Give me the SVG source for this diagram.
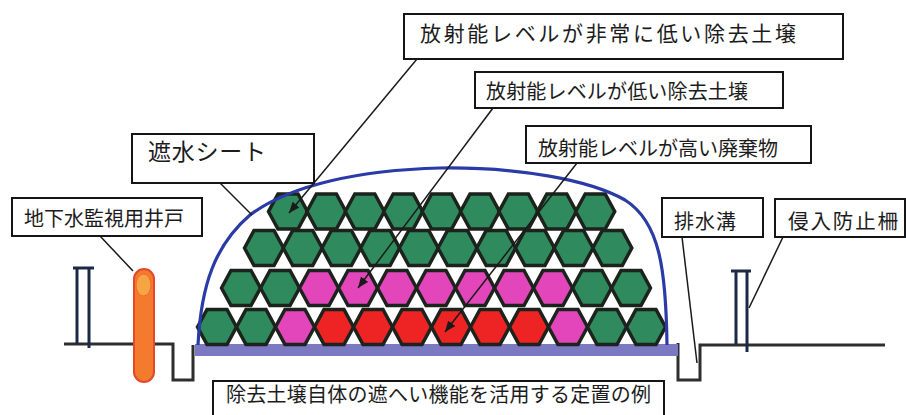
<svg xmlns="http://www.w3.org/2000/svg" xmlns:xlink="http://www.w3.org/1999/xlink" width="906" height="415" viewBox="0 0 906 415">
  <style>
    .box { fill: #ffffff; stroke: #151515; stroke-width: 2; }
    .lbl { font-family: "Noto Sans CJK JP", "Noto Sans", sans-serif; fill: #1c1c1c; }
    .lead { stroke: #1a1a1a; stroke-width: 1.5; fill: none; }
    .ground { stroke: #2e2e2e; stroke-width: 3; fill: none; stroke-linejoin: miter; }
    .post { stroke: #1b2846; stroke-width: 3; fill: none; }
    .hex { stroke: #1c221c; stroke-width: 3.5; stroke-linejoin: miter; }
    .g { fill: #2f8a5e; }
    .m { fill: #e346bb; }
    .r { fill: #ee2323; }
  </style>
  <defs>
    <polygon id="hx" class="hex" points="-19.5,0 -10,-17.5 10,-17.5 19.5,0 10,17.5 -10,17.5"/>
    <marker id="ah" markerUnits="userSpaceOnUse" markerWidth="12" markerHeight="10" refX="11" refY="4.5" orient="auto">
      <path d="M0,0 L11,4.5 L0,9 z" fill="#1a1a1a"/>
    </marker>
  </defs>

  <rect width="906" height="415" fill="#ffffff"/>

  <!-- ground with drainage trenches -->
  <g id="ground">
    <path class="ground" d="M64 344 H173 V380 H193 V345"/>
    <path class="ground" d="M678 343 V380 H700 V345 H885"/>
  </g>

  <!-- fences -->
  <g id="fence-left">
    <line class="post" x1="73" y1="268" x2="94" y2="268" stroke-width="4"/>
    <line class="post" x1="77" y1="268" x2="77" y2="344"/>
    <line class="post" x1="89" y1="268" x2="89" y2="348"/>
  </g>
  <g id="fence-right">
    <line class="post" x1="731" y1="271" x2="751" y2="271" stroke-width="4"/>
    <line class="post" x1="736" y1="271" x2="736" y2="344"/>
    <line class="post" x1="747" y1="271" x2="747" y2="352"/>
  </g>

  <!-- monitoring well -->
  <g id="well">
    <rect x="134" y="269" width="20" height="113" rx="10" ry="10" fill="#f47b2e" stroke="#e4472a" stroke-width="2"/>
    <ellipse cx="143.5" cy="285" rx="7.5" ry="11" fill="#f6a545" stroke="#ee6a30" stroke-width="1"/>
  </g>

  <!-- base layer -->
  <g id="base">
    <rect x="195" y="344" width="483" height="12" fill="#7b79c2"/>
  </g>

  <!-- stacked soil bags -->
  <g id="bags">
    <!-- row 1 -->
    <use href="#hx" class="g" x="217" y="327"/>
    <use href="#hx" class="g" x="256" y="327"/>
    <use href="#hx" class="m" x="295" y="327"/>
    <use href="#hx" class="r" x="334" y="327"/>
    <use href="#hx" class="r" x="373" y="327"/>
    <use href="#hx" class="r" x="412" y="327"/>
    <use href="#hx" class="r" x="451" y="327"/>
    <use href="#hx" class="r" x="490" y="327"/>
    <use href="#hx" class="r" x="529" y="327"/>
    <use href="#hx" class="m" x="568" y="327"/>
    <use href="#hx" class="g" x="607" y="327"/>
    <use href="#hx" class="g" x="646" y="327"/>
    <!-- row 2 -->
    <use href="#hx" class="g" x="241" y="288"/>
    <use href="#hx" class="g" x="280" y="288"/>
    <use href="#hx" class="m" x="319" y="288"/>
    <use href="#hx" class="m" x="358" y="288"/>
    <use href="#hx" class="m" x="397" y="288"/>
    <use href="#hx" class="m" x="436" y="288"/>
    <use href="#hx" class="m" x="475" y="288"/>
    <use href="#hx" class="m" x="514" y="288"/>
    <use href="#hx" class="m" x="553" y="288"/>
    <use href="#hx" class="g" x="592" y="288"/>
    <use href="#hx" class="g" x="631" y="288"/>
    <!-- row 3 -->
    <use href="#hx" class="g" x="264" y="248"/>
    <use href="#hx" class="g" x="302.7" y="248"/>
    <use href="#hx" class="g" x="341.4" y="248"/>
    <use href="#hx" class="g" x="380.1" y="248"/>
    <use href="#hx" class="g" x="418.8" y="248"/>
    <use href="#hx" class="g" x="457.5" y="248"/>
    <use href="#hx" class="g" x="496.2" y="248"/>
    <use href="#hx" class="g" x="534.9" y="248"/>
    <use href="#hx" class="g" x="573.6" y="248"/>
    <use href="#hx" class="g" x="612.3" y="248"/>
    <!-- row 4 -->
    <use href="#hx" class="g" x="288" y="211.5"/>
    <use href="#hx" class="g" x="326.4" y="211.5"/>
    <use href="#hx" class="g" x="364.8" y="211.5"/>
    <use href="#hx" class="g" x="403.2" y="211.5"/>
    <use href="#hx" class="g" x="441.6" y="211.5"/>
    <use href="#hx" class="g" x="480" y="211.5"/>
    <use href="#hx" class="g" x="518.4" y="211.5"/>
    <use href="#hx" class="g" x="556.8" y="211.5"/>
    <use href="#hx" class="g" x="595.2" y="211.5"/>
  </g>

  <!-- waterproof sheet -->
  <g id="sheet">
    <path d="M198 345 C201 285 215 245 250 215 C290 185 360 170 440 168 C520 167 590 180 625 200 C660 222 666 270 667 345" fill="none" stroke="#2a3aa6" stroke-width="3.2"/>
  </g>

  <!-- leader lines -->
  <g id="connectors">
    <line class="lead" x1="417" y1="59" x2="289" y2="213" marker-end="url(#ah)"/>
    <line class="lead" x1="493" y1="108" x2="358" y2="288" marker-end="url(#ah)"/>
    <line class="lead" x1="577" y1="163" x2="445" y2="332" marker-end="url(#ah)"/>
    <line class="lead" x1="220" y1="183" x2="252" y2="215"/>
    <line class="lead" x1="100" y1="236" x2="133" y2="271"/>
    <line class="lead" x1="682" y1="237" x2="697" y2="363"/>
    <line class="lead" x1="783" y1="237" x2="749" y2="308"/>
  </g>

  <!-- labels -->
  <g id="label-very-low">
    <rect class="box" x="404" y="14" width="439" height="45" stroke-width="2.5"/>
    <text class="lbl" x="420" y="41" font-size="21" textLength="376" lengthAdjust="spacing">放射能レベルが非常に低い除去土壌</text>
  </g>
  <g id="label-low">
    <rect class="box" x="475" y="72" width="308" height="36"/>
    <text class="lbl" x="486" y="98.5" font-size="20" textLength="262" lengthAdjust="spacing">放射能レベルが低い除去土壌</text>
  </g>
  <g id="label-high">
    <rect class="box" x="526" y="126" width="285" height="37"/>
    <text class="lbl" x="538" y="155.5" font-size="20" textLength="240" lengthAdjust="spacing">放射能レベルが高い廃棄物</text>
  </g>
  <g id="label-sheet">
    <rect class="box" x="132" y="134" width="182" height="49"/>
    <text class="lbl" x="148" y="160" font-size="23" textLength="118" lengthAdjust="spacing">遮水シート</text>
  </g>
  <g id="label-well">
    <rect class="box" x="12" y="198" width="190" height="38"/>
    <text class="lbl" x="24" y="225.5" font-size="20" textLength="160" lengthAdjust="spacing">地下水監視用井戸</text>
  </g>
  <g id="label-drain">
    <rect class="box" x="662" y="198" width="101" height="39"/>
    <text class="lbl" x="674" y="228.5" font-size="20" textLength="62" lengthAdjust="spacing">排水溝</text>
  </g>
  <g id="label-fence">
    <rect class="box" x="775" y="199" width="130" height="38"/>
    <text class="lbl" x="788" y="228.5" font-size="20.5" textLength="110" lengthAdjust="spacing">侵入防止柵</text>
  </g>
  <g id="caption">
    <rect class="box" x="213" y="381" width="451" height="45"/>
    <text class="lbl" x="226" y="401.5" font-size="20" textLength="425" lengthAdjust="spacing">除去土壌自体の遮へい機能を活用する定置の例</text>
  </g>
</svg>
